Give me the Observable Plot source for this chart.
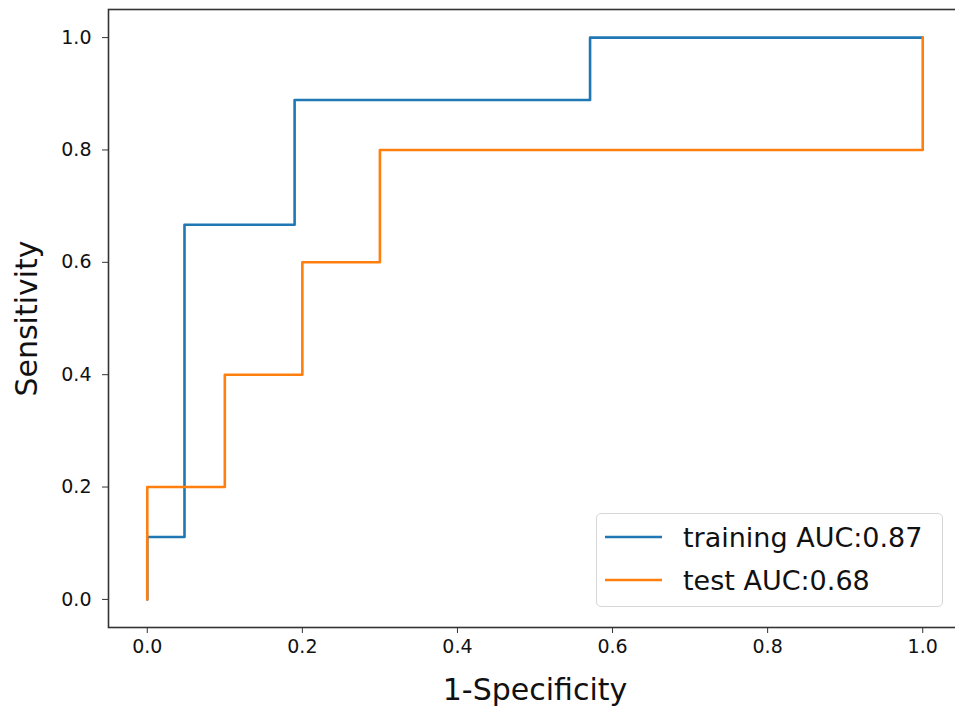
<!DOCTYPE html>
<html>
<head>
<meta charset="utf-8">
<script src="https://cdn.jsdelivr.net/npm/d3@7"></script>
<script src="https://cdn.jsdelivr.net/npm/@observablehq/plot@0.6"></script>
<style>
  html, body { margin: 0; padding: 0; background: #fff; overflow: hidden; }
  #wrap { position: relative; width: 955px; height: 715px; overflow: hidden; }
  #chart svg { max-width: none !important; display: block; }
  #legend { position: absolute; left: 596px; top: 513px; width: 347px; height: 94px;
    border: 1px solid #d6d6d6; border-radius: 5px; background: rgba(255,255,255,0.85);
    font-family: "DejaVu Sans", sans-serif; font-size: 27px; color: #111; box-sizing: border-box; }
  .row { position: absolute; left: 8px; height: 30px; display: flex; align-items: center; }
  .row svg { margin-right: 21px; }
</style>
</head>
<body>
<div id="wrap"><div id="chart"></div><div id="legend"></div></div>
<script>
const trainingFpr = [0, 0, 0.048, 0.048, 0.19, 0.19, 0.571, 0.571, 1.0];
const trainingTpr = [0, 0.111, 0.111, 0.667, 0.667, 0.889, 0.889, 1.0, 1.0];
const testFpr = [0, 0, 0.1, 0.1, 0.2, 0.2, 0.3, 0.3, 1.0, 1.0];
const testTpr = [0, 0.2, 0.2, 0.4, 0.4, 0.6, 0.6, 0.8, 0.8, 1.0];
const seriesNames = ["training AUC:0.87", "test AUC:0.68"];
const seriesColors = ["#1f77b4", "#ff7f0e"];
const tickValues = [0, 0.2, 0.4, 0.6, 0.8, 1.0];
const xLabel = "1-Specificity";
const yLabel = "Sensitivity";

const training = trainingFpr.map((x, i) => ({x, y: trainingTpr[i]}));
const test = testFpr.map((x, i) => ({x, y: testTpr[i]}));

const chart = Plot.plot({
  width: 963,
  height: 715,
  marginLeft: 108,
  marginRight: 2,
  marginTop: 9,
  marginBottom: 88,
  style: {fontFamily: "DejaVu Sans, sans-serif", background: "#fff", color: "#111", maxWidth: "none"},
  x: {domain: [-0.05, 1.05]},
  y: {domain: [-0.05, 1.05]},
  marks: [
    Plot.axisX({ticks: tickValues, tickFormat: ".1f", tickSize: 6, tickPadding: 6, fontSize: 19, label: null, stroke: "#333"}),
    Plot.axisY({ticks: tickValues, tickFormat: ".1f", tickSize: 6, tickPadding: 11, fontSize: 19, label: null, stroke: "#333"}),
    Plot.line(training, {x: "x", y: "y", stroke: seriesColors[0], strokeWidth: 2.6}),
    Plot.line(test, {x: "x", y: "y", stroke: seriesColors[1], strokeWidth: 2.6}),
    Plot.frame({stroke: "#333", strokeWidth: 1.6}),
    Plot.text([xLabel], {frameAnchor: "bottom", dy: 72, fontSize: 30, fill: "#111"}),
    Plot.text([yLabel], {frameAnchor: "left", textAnchor: "middle", dx: -81, rotate: -90, fontSize: 30, fill: "#111"})
  ]
});
document.getElementById("chart").appendChild(chart);

const legend = document.getElementById("legend");
seriesNames.forEach((name, i) => {
  const row = document.createElement("div");
  row.className = "row";
  row.style.top = (8 + i * 43) + "px";
  row.innerHTML = `<svg width="57" height="6"><line x1="0" y1="3" x2="57" y2="3" stroke="${seriesColors[i]}" stroke-width="2.6"/></svg><span>${name}</span>`;
  legend.appendChild(row);
});
</script>
</body>
</html>
